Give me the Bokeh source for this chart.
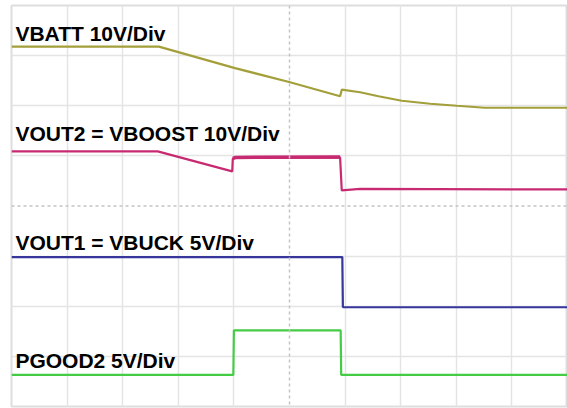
from bokeh.plotting import figure
from bokeh.models import Range1d, Grid, FixedTicker, Span
from bokeh.core.properties import value
from bokeh.embed import file_html
from bokeh.resources import INLINE

# time axis in scope divisions (10 div across), trace levels in screen divisions (8 div tall)
vbatt_t = [0.0, 2.65, 4.02, 5.01, 5.91, 5.94, 6.27, 6.6, 7.02, 7.53, 8.01, 8.51, 10.0]
vbatt_y = [7.18, 7.18, 6.75, 6.47, 6.19, 6.32, 6.27, 6.19, 6.10, 6.04, 6.00, 5.96, 5.96]

vout2_t = [0.0, 2.63, 3.97, 3.98, 4.03, 5.91, 5.94, 6.27, 10.0]
vout2_y = [5.09, 5.09, 4.69, 4.94, 4.96, 4.97, 4.31, 4.34, 4.33]

vout1_t = [0.0, 5.95, 5.96, 10.0]
vout1_y = [2.98, 2.98, 1.98, 1.98]

pgood_t = [0.0, 3.99, 4.00, 5.92, 5.93, 10.0]
pgood_y = [0.63, 0.63, 1.52, 1.52, 0.63, 0.63]

labels = ["VBATT 10V/Div", "VOUT2 = VBOOST 10V/Div", "VOUT1 = VBUCK 5V/Div", "PGOOD2 5V/Div"]
label_y = [7.44, 5.44, 3.28, 0.92]
label_x = [0.07, 0.07, 0.07, 0.07]

colors = ["#a39f3a", "#c82a72", "#35359c", "#45cc45"]

x_divs = list(range(0, 11))
y_divs = list(range(0, 9))

p = figure(width=567, height=408, output_backend="svg", toolbar_location=None,
           x_range=Range1d(0, 10), y_range=Range1d(0, 8),
           x_axis_type=None, y_axis_type=None,
           min_border_left=11, min_border_right=0, min_border_top=5, min_border_bottom=2,
           background_fill_color="white", border_fill_color="white")
p.outline_line_color = "#dedede"
p.outline_line_width = 2

gx = Grid(dimension=0, ticker=FixedTicker(ticks=[t for t in x_divs if t != 5]),
          grid_line_color="#e4e4e4", grid_line_width=1.5)
gy = Grid(dimension=1, ticker=FixedTicker(ticks=[t for t in y_divs if t != 4]),
          grid_line_color="#e4e4e4", grid_line_width=1.5)
p.add_layout(gx)
p.add_layout(gy)
p.add_layout(Span(location=5, dimension="height", line_color="#c4c4c4",
                  line_width=1.5, line_dash="3 3"))
p.add_layout(Span(location=4, dimension="width", line_color="#c4c4c4",
                  line_width=1.5, line_dash="3 3"))

p.line(vbatt_t, vbatt_y, line_color=colors[0], line_width=2.2)
p.line(vout2_t, vout2_y, line_color=colors[1], line_width=2.2)
p.line(vout2_t[3:6], [v + 0.01 for v in vout2_y[3:6]], line_color=colors[1], line_width=3.5)
p.line(vout1_t, vout1_y, line_color=colors[2], line_width=2.2)
p.line(pgood_t, pgood_y, line_color=colors[3], line_width=2.2)

p.text(x=label_x, y=label_y, text=labels, text_font=value("Liberation Sans"),
       text_font_style="bold", text_font_size="21px", text_color="#000000",
       text_baseline="alphabetic", text_align="left")

open("out.html", "w").write(file_html(p, INLINE))
